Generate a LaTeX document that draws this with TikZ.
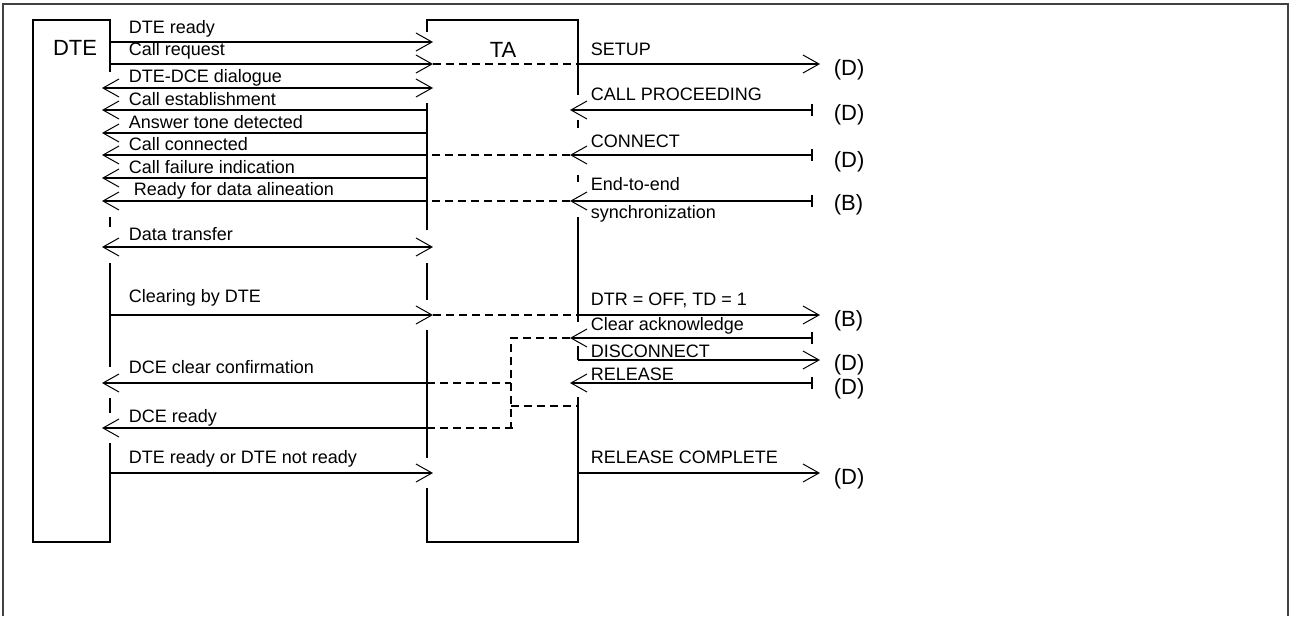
\documentclass[tikz,border=0pt]{standalone}
\usepackage{fontspec}
\setmainfont{Liberation Sans}
\usetikzlibrary{arrows.meta}

\begin{document}
\begin{tikzpicture}[x = 0.5pt, y = -0.5pt, line width = 0.8pt,
    via/.style = {dash pattern = on 4pt off 2.5pt},
    inbound/.style = {{Bar[width = 6pt]}->},
    lbl/.style = {anchor = base west, inner sep = 0pt, font = \fontsize{9}{10}\selectfont},
    tag/.style = {anchor = west, inner sep = 0pt, font = \fontsize{11}{12}\selectfont},
    head/.style = {inner sep = 0pt, font = \fontsize{11}{12}\selectfont},
    >={Straight Barb[length = 8pt, width = 9pt, line width = 0.5pt]}]
    \useasboundingbox (0,0) rectangle (1290,616);
    \draw[line width = 0.6pt, black!75] (3,616) -- (3,4) -- (1288,4) -- (1288,616);

    \draw (110,72) -- (110,20) -- (33,20) -- (33,542) -- (110,542) -- (110,443);
    \draw (110,217) -- (110,227) (110,263) -- (110,367) (110,398) -- (110,413);
    \draw (427,32) -- (427,20) -- (578,20) -- (578,95);
    \draw (427,103) -- (427,230) (427,263) -- (427,300) (427,330) -- (427,458)
          (427,488) -- (427,542) -- (578,542) -- (578,397);
    \draw (578,120) -- (578,128) (578,175) -- (578,182) (578,217) -- (578,322) (578,346) -- (578,360);
    \node[head] (dteName) at (75,48) {DTE};
    \node[head] (taName) at (503,50) {TA};

    \foreach \n/\x in {dteTip/102, dte/110, taL/427, taLTip/433, link/511, linkEnd/517,
                       taRTip/570, taR/578, netBar/813, netTip/820}
        \coordinate (\n) at (\x,0);
    \foreach \y [count = \i] in {42, 64, 88, 110, 133, 155, 178, 201, 247, 315, 338, 360, 383, 406, 428, 473}
        \coordinate (m\i) at (0,\y);

    \draw[->] (dte|-m1) -- (taLTip|-m1);
    \draw[->] (dte|-m2) -- (taLTip|-m2);
    \draw[via] (taLTip|-m2) -- (taR|-m2);
    \draw[->] (taR|-m2) -- (netTip|-m2);
    \draw[<->] (dteTip|-m3) -- (taLTip|-m3);
    \foreach \m in {m4, m5, m6, m7, m8}
        \draw[->] (taL|-\m) -- (dteTip|-\m);
    \foreach \m in {m4, m6, m8}
        \draw[inbound] (netBar|-\m) -- (taRTip|-\m);
    \foreach \m in {m6, m8}
        \draw[via] (taRTip|-\m) -- (taL|-\m);
    \draw[<->] (dteTip|-m9) -- (taLTip|-m9);
    \draw[->] (dte|-m10) -- (taLTip|-m10);
    \draw[via] (taLTip|-m10) -- (taR|-m10);
    \draw[->] (taR|-m10) -- (netTip|-m10);
    \draw[inbound] (netBar|-m11) -- (taRTip|-m11);
    \draw[via] (taRTip|-m11) -- (link|-m11) -- (link|-m15);
    \draw[->] (taR|-m12) -- (netTip|-m12);
    \draw[inbound] (netBar|-m13) -- (taRTip|-m13);
    \draw[->] (taL|-m13) -- (dteTip|-m13);
    \draw[via] (taL|-m13) -- (link|-m13);
    \draw[via] (link|-m14) -- (taR|-m14);
    \draw[->] (taL|-m15) -- (dteTip|-m15);
    \draw[via] (taL|-m15) -- (linkEnd|-m15);
    \draw[->] (dte|-m16) -- (taLTip|-m16);
    \draw[->] (taR|-m16) -- (netTip|-m16);

    \foreach \t/\y [count = \i] in {DTE ready/33, Call request/55, DTE-DCE dialogue/82,
            Call establishment/105, Answer tone detected/128, Call connected/150,
            Call failure indication/173, Data transfer/240, Clearing by DTE/302,
            DCE clear confirmation/373, DCE ready/422, DTE ready or DTE not ready/463}
        \node[lbl] (dteMsg\i) at (128,\y) {\t};
    \node[lbl] (dteAlign) at (133,195) {Ready for data alineation};
    \foreach \t/\y [count = \i] in {SETUP/55, CALL PROCEEDING/100, CONNECT/147, End-to-end/190,
            synchronization/218, {DTR = OFF, TD = 1}/305, Clear acknowledge/330,
            DISCONNECT/357, RELEASE/380, RELEASE COMPLETE/463}
        \node[lbl] (netMsg\i) at (590,\y) {\t};
    \foreach \t/\y [count = \i] in {D/70, D/115, D/162, B/205, B/321, D/365, D/389, D/479}
        \node[tag] (ref\i) at (833,\y) {(\t)};
\end{tikzpicture}
\end{document}
